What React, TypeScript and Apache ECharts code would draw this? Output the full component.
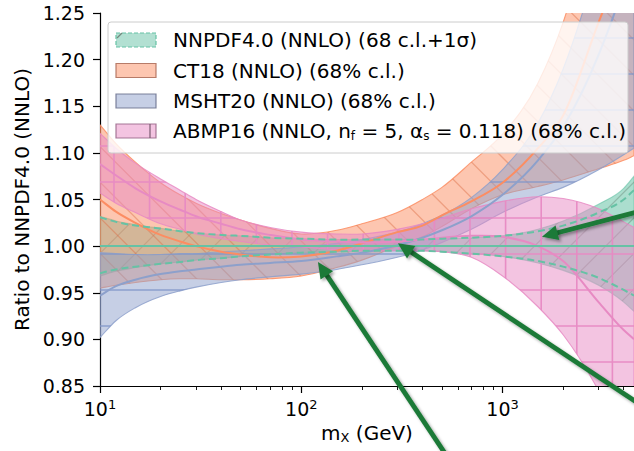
import React, { useEffect, useRef } from "react";
import * as echarts from "echarts";

// ---------------- data ----------------
const mX = [10, 12, 15, 20, 25, 30, 40, 50, 70, 100, 150, 200, 300, 400, 500, 700, 1000, 1500, 2000, 3000, 4000, 4500];

// NNPDF4.0: 68% c.l. band (filled) and 1-sigma (dashed)
const nnClLo = [0.968, 0.973, 0.977, 0.981, 0.983, 0.985, 0.987, 0.989, 0.991, 0.993, 0.994, 0.995, 0.995, 0.995, 0.994, 0.992, 0.989, 0.982, 0.974, 0.958, 0.940, 0.930];
const nnClHi = [1.032, 1.027, 1.023, 1.019, 1.016, 1.014, 1.012, 1.011, 1.009, 1.008, 1.007, 1.007, 1.007, 1.007, 1.008, 1.009, 1.011, 1.018, 1.027, 1.045, 1.062, 1.075];
const nnSdLo = [0.971, 0.975, 0.978, 0.981, 0.983, 0.985, 0.987, 0.989, 0.991, 0.993, 0.994, 0.995, 0.995, 0.995, 0.994, 0.992, 0.989, 0.984, 0.978, 0.966, 0.953, 0.947];
const nnSdHi = [1.031, 1.026, 1.022, 1.019, 1.016, 1.014, 1.012, 1.011, 1.009, 1.008, 1.007, 1.007, 1.007, 1.007, 1.008, 1.009, 1.011, 1.016, 1.022, 1.036, 1.050, 1.060];
const nnMid = [1, 1, 1, 1, 1, 1, 1, 1, 1, 1, 1, 1, 1, 1, 1, 1, 1, 1, 1, 1, 1, 1];

// CT18
const ctLo = [0.955, 0.958, 0.961, 0.964, 0.965, 0.965, 0.964, 0.964, 0.965, 0.968, 0.977, 0.985, 1.000, 1.010, 1.021, 1.040, 1.055, 1.064, 1.071, 1.083, 1.092, 1.097];
const ctMid = [1.050, 1.037, 1.025, 1.012, 1.005, 1.000, 0.994, 0.991, 0.988, 0.989, 0.995, 1.003, 1.015, 1.022, 1.033, 1.048, 1.068, 1.105, 1.140, 1.240, 1.310, 1.350];
const ctHi = [1.130, 1.110, 1.090, 1.068, 1.055, 1.046, 1.035, 1.028, 1.019, 1.013, 1.017, 1.024, 1.036, 1.050, 1.063, 1.090, 1.120, 1.175, 1.240, 1.380, 1.510, 1.580];

// MSHT20
const msLo = [0.902, 0.920, 0.934, 0.946, 0.952, 0.956, 0.961, 0.964, 0.967, 0.970, 0.975, 0.980, 0.988, 0.996, 1.004, 1.018, 1.036, 1.053, 1.063, 1.082, 1.098, 1.105];
const msMid = [0.947, 0.957, 0.964, 0.970, 0.973, 0.975, 0.978, 0.980, 0.982, 0.984, 0.989, 0.993, 1.001, 1.009, 1.017, 1.032, 1.055, 1.092, 1.128, 1.205, 1.280, 1.320];
const msHi = [0.993, 0.992, 0.991, 0.991, 0.992, 0.992, 0.994, 0.995, 0.997, 0.999, 1.003, 1.007, 1.015, 1.024, 1.033, 1.052, 1.082, 1.132, 1.190, 1.310, 1.420, 1.480];

// ABMP16
const abLo = [1.057, 1.046, 1.036, 1.024, 1.018, 1.013, 1.008, 1.005, 1.001, 0.999, 0.996, 0.995, 0.995, 0.995, 0.994, 0.988, 0.968, 0.935, 0.905, 0.845, 0.790, 0.760];
const abMid = [1.088, 1.076, 1.062, 1.048, 1.039, 1.032, 1.024, 1.018, 1.012, 1.007, 1.005, 1.004, 1.005, 1.007, 1.009, 1.011, 1.010, 1.000, 0.984, 0.940, 0.910, 0.900];
const abHi = [1.121, 1.105, 1.089, 1.072, 1.060, 1.050, 1.037, 1.028, 1.020, 1.015, 1.013, 1.013, 1.018, 1.024, 1.030, 1.040, 1.048, 1.053, 1.051, 1.040, 1.026, 1.020];

// axes
const xMajorTicks = [10, 100, 1000];
const xMinorTicks = [20, 30, 40, 50, 60, 70, 80, 90, 200, 300, 400, 500, 600, 700, 800, 900, 2000, 3000, 4000];

// annotation arrows (data coordinates: tail -> tip)
const arrowTailM = [587, 6050, 6050];
const arrowTailR = [0.760, 0.816, 1.043];
const arrowTipM = [121, 302, 1570];
const arrowTipR = [0.983, 1.003, 1.010];

// legend labels (rich text)
const legendLabels = [
  "{t|NNPDF4.0 (NNLO) (68 c.l.+1σ)}",
  "{t|CT18 (NNLO) (68% c.l.)}",
  "{t|MSHT20 (NNLO) (68% c.l.)}",
  "{t|ABMP16 (NNLO, n}{s|f}{t| = 5, α}{s|s}{t| = 0.118) (68% c.l.)}",
];

// ---------------- styles ----------------
const FONT = "DejaVu Sans";
const GREEN = "#66c2a5";
const ORANGE = "#fc8d62";
const BLUE = "#8da0cb";
const PINK = "#e78ac3";
const ARROW = "#1b7a37";

const f = (v: number) => v.toFixed(2);

function hermitePath(pts: number[][], start: string): string {
  const n = pts.length;
  const sl: number[] = [];
  for (let i = 0; i < n; i++) {
    if (i === 0) sl.push((pts[1][1] - pts[0][1]) / (pts[1][0] - pts[0][0]));
    else if (i === n - 1) sl.push((pts[n - 1][1] - pts[n - 2][1]) / (pts[n - 1][0] - pts[n - 2][0]));
    else {
      const h0 = pts[i][0] - pts[i - 1][0];
      const h1 = pts[i + 1][0] - pts[i][0];
      const s0 = (pts[i][1] - pts[i - 1][1]) / h0;
      const s1 = (pts[i + 1][1] - pts[i][1]) / h1;
      sl.push((s0 * h1 + s1 * h0) / (h0 + h1));
    }
  }
  let d = `${start}${f(pts[0][0])} ${f(pts[0][1])}`;
  for (let i = 0; i < n - 1; i++) {
    const [x0, y0] = pts[i];
    const [x1, y1] = pts[i + 1];
    const dx = (x1 - x0) / 3;
    d += ` C${f(x0 + dx)} ${f(y0 + sl[i] * dx)} ${f(x1 - dx)} ${f(y1 - sl[i + 1] * dx)} ${f(x1)} ${f(y1)}`;
  }
  return d;
}

function hatchPath(kind: string, rect: any): string {
  const SX = 35.6;
  const SY = 36;
  const x0 = rect.x - 40;
  const x1 = rect.x + rect.width + 40;
  const y0 = rect.y - 40;
  const y1 = rect.y + rect.height + 40;
  const segs: string[] = [];
  if (kind === "grid") {
    for (let x = 114 - SX * Math.ceil((114 - x0) / SX); x <= x1; x += SX) segs.push(`M${f(x)} ${f(y0)}L${f(x)} ${f(y1)}`);
  }
  if (kind === "grid" || kind === "horiz") {
    for (let y = 254 - SY * Math.ceil((254 - y0) / SY); y <= y1; y += SY) segs.push(`M${f(x0)} ${f(y)}L${f(x1)} ${f(y)}`);
  }
  if (kind === "back") {
    for (let c = y0 - x1; c <= y1 - x0; c += SX) segs.push(`M${f(x0)} ${f(x0 + c)}L${f(x1)} ${f(x1 + c)}`);
  }
  if (kind === "fwd") {
    for (let c = x0 + y0; c <= x1 + y1; c += SX) segs.push(`M${f(x0)} ${f(c - x0)}L${f(x1)} ${f(c - x1)}`);
  }
  return segs.join("");
}

function bandSeries(lo: number[], hi: number[], fill: string, edge: string, hatch: string, hatchColor: string, hatchWidth: number, z: number) {
  return {
    type: "custom",
    coordinateSystem: "cartesian2d",
    xAxisIndex: 0,
    yAxisIndex: 0,
    clip: true,
    silent: true,
    z,
    data: mX.map((m, i) => [m, lo[i], hi[i]]),
    encode: { x: 0, y: [1, 2] },
    renderItem: (params: any, api: any) => {
      if (params.dataIndex !== 0) return null;
      const up = mX.map((m, i) => api.coord([m, hi[i]]));
      const dn = mX.map((m, i) => api.coord([m, lo[i]])).reverse();
      const d = hermitePath(up, "M") + " " + hermitePath(dn, "L") + " Z";
      return {
        type: "group",
        children: [
          { type: "path", shape: { pathData: d }, style: { fill, stroke: edge, lineWidth: 1.1 } },
          {
            type: "path",
            shape: { pathData: hatchPath(hatch, params.coordSys) },
            style: { fill: "none", stroke: hatchColor, lineWidth: hatchWidth },
            clipPath: { type: "path", shape: { pathData: d } },
          },
        ],
      };
    },
  };
}

function curveSeries(vals: number[], stroke: string, width: number, dash: number[] | null, z: number) {
  return {
    type: "custom",
    coordinateSystem: "cartesian2d",
    xAxisIndex: 0,
    yAxisIndex: 0,
    clip: true,
    silent: true,
    z,
    data: mX.map((m, i) => [m, vals[i]]),
    encode: { x: 0, y: 1 },
    renderItem: (params: any, api: any) => {
      if (params.dataIndex !== 0) return null;
      const pts = mX.map((m, i) => api.coord([m, vals[i]]));
      return {
        type: "path",
        shape: { pathData: hermitePath(pts, "M") },
        style: { fill: "none", stroke, lineWidth: width, lineDash: dash || undefined },
      };
    },
  };
}

const arrowSeries = {
  type: "custom",
  coordinateSystem: "cartesian2d",
  xAxisIndex: 0,
  yAxisIndex: 0,
  clip: false,
  silent: true,
  z: 30,
  data: arrowTipM.map((m, i) => [m, arrowTipR[i], arrowTailM[i], arrowTailR[i]]),
  encode: { x: 0, y: 1 },
  renderItem: (params: any, api: any) => {
    const i = params.dataIndex;
    const tip = api.coord([arrowTipM[i], arrowTipR[i]]);
    const tail = api.coord([arrowTailM[i], arrowTailR[i]]);
    const dx = tip[0] - tail[0];
    const dy = tip[1] - tail[1];
    const len = Math.sqrt(dx * dx + dy * dy);
    const ux = dx / len;
    const uy = dy / len;
    const L = 16;
    const W = 7.5;
    const bx = tip[0] - ux * L;
    const by = tip[1] - uy * L;
    const shadow = { shadowColor: "rgba(0,0,0,0.35)", shadowBlur: 3, shadowOffsetX: 2, shadowOffsetY: 2 };
    return {
      type: "group",
      children: [
        {
          type: "line",
          shape: { x1: tail[0], y1: tail[1], x2: bx + ux * 2, y2: by + uy * 2 },
          style: { stroke: ARROW, lineWidth: 4.8, ...shadow },
        },
        {
          type: "polygon",
          shape: { points: [[tip[0], tip[1]], [bx - uy * W, by + ux * W], [bx + uy * W, by - ux * W]] },
          style: { fill: ARROW, ...shadow },
        },
      ],
    };
  },
};

function buildLegend() {
  const cys = [40, 70.5, 101, 131];
  const patchFill = ["rgba(102,194,165,0.5)", "rgba(252,141,98,0.5)", "rgba(141,160,203,0.5)", "rgba(231,138,195,0.5)"];
  const patchStroke = [GREEN, "rgba(170,105,85,0.85)", "rgba(105,110,140,0.85)", "rgba(150,100,135,0.85)"];
  const els: any[] = [
    {
      type: "rect",
      z: 100,
      shape: { x: 108, y: 22, width: 520, height: 131, r: 3 },
      style: { fill: "rgba(255,255,255,0.8)", stroke: "#cccccc", lineWidth: 1 },
    },
  ];
  cys.forEach((cy, i) => {
    els.push({
      type: "rect",
      z: 101,
      shape: { x: 116, y: cy - 7, width: 40, height: 14 },
      style: { fill: patchFill[i], stroke: patchStroke[i], lineWidth: 1.2, lineDash: i === 0 ? [4, 2] : undefined },
    });
    els.push({
      type: "text",
      z: 102,
      x: 173,
      y: cy,
      style: {
        text: legendLabels[i],
        verticalAlign: "middle",
        align: "left",
        rich: {
          t: { fontSize: 20, fontFamily: FONT, fill: "#000", color: "#000", lineHeight: 22 },
          s: { fontSize: 12, fontFamily: FONT, fill: "#000", color: "#000", verticalAlign: "bottom", lineHeight: 11 },
        },
      },
    });
  });
  // small hatch marks visible in the legend patches
  els.push({ type: "line", z: 102, shape: { x1: 117, y1: 38, x2: 122, y2: 33 }, style: { stroke: "rgba(90,100,90,0.7)", lineWidth: 1.2 } });
  els.push({ type: "line", z: 102, shape: { x1: 150, y1: 124, x2: 150, y2: 138 }, style: { stroke: "rgba(120,90,110,0.85)", lineWidth: 1.4 } });
  return els;
}

export default function App() {
  const ref = useRef<HTMLDivElement>(null);
  useEffect(() => {
    if (!ref.current) return;
    const chart = echarts.init(ref.current, null, { renderer: "svg" });
    const axisText = { color: "#000", fontFamily: FONT, fontSize: 19 };
    const option: any = {
      animation: false,
      backgroundColor: "#ffffff",
      grid: { left: 100, right: 0, top: 13, bottom: 65, containLabel: false },
      xAxis: [
        {
          type: "log",
          logBase: 10,
          min: 10,
          max: 4500,
          name: "{a|m}{b|X}{a| (GeV)}",
          nameLocation: "middle",
          nameGap: 36,
          nameTextStyle: {
            rich: {
              a: { fontSize: 20, fontFamily: FONT, color: "#000", lineHeight: 22 },
              b: { fontSize: 13, fontFamily: FONT, color: "#000", verticalAlign: "bottom", lineHeight: 12 },
            },
          },
          axisLine: { show: true, lineStyle: { color: "#000", width: 1.2 } },
          axisTick: { show: true, customValues: xMajorTicks, length: 7, inside: false, lineStyle: { color: "#000", width: 1.2 } },
          axisLabel: {
            show: true,
            customValues: xMajorTicks,
            margin: 12,
            formatter: (v: number) => `{b|10}{s|${Math.round(Math.log10(v))}}`,
            rich: {
              b: { ...axisText, lineHeight: 22 },
              s: { color: "#000", fontFamily: FONT, fontSize: 13, verticalAlign: "top", lineHeight: 12 },
            },
          },
          splitLine: { show: false },
          minorTick: { show: false },
        },
        {
          type: "log",
          logBase: 10,
          min: 10,
          max: 4500,
          position: "bottom",
          offset: 0,
          axisLine: { show: false },
          axisTick: { show: true, customValues: xMinorTicks, length: 4, inside: false, lineStyle: { color: "#000", width: 0.9 } },
          axisLabel: { show: false },
          splitLine: { show: false },
        },
      ],
      yAxis: {
        type: "value",
        min: 0.85,
        max: 1.25,
        interval: 0.05,
        name: "Ratio to NNPDF4.0 (NNLO)",
        nameLocation: "middle",
        nameGap: 62,
        nameRotate: 90,
        nameTextStyle: { color: "#000", fontFamily: FONT, fontSize: 20 },
        axisLine: { show: true, onZero: false, lineStyle: { color: "#000", width: 1.2 } },
        axisTick: { show: true, length: 7, inside: false, lineStyle: { color: "#000", width: 1.2 } },
        axisLabel: { ...axisText, margin: 15, formatter: (v: number) => v.toFixed(2) },
        splitLine: { show: false },
      },
      series: [
        bandSeries(nnClLo, nnClHi, "rgba(102,194,165,0.55)", "rgba(102,194,165,0.6)", "fwd", "rgba(90,115,100,0.35)", 1.2, 2),
        bandSeries(ctLo, ctHi, "rgba(252,141,98,0.5)", "rgba(252,141,98,0.85)", "back", "rgba(220,110,70,0.45)", 1.3, 3),
        bandSeries(msLo, msHi, "rgba(141,160,203,0.5)", "rgba(141,160,203,0.85)", "horiz", "rgba(130,150,200,0.85)", 1.5, 4),
        bandSeries(abLo, abHi, "rgba(231,138,195,0.5)", "rgba(231,138,195,0.85)", "grid", "rgba(231,138,195,0.95)", 1.6, 5),
        curveSeries(ctMid, ORANGE, 2, null, 10),
        curveSeries(msMid, BLUE, 2, null, 10),
        curveSeries(abMid, PINK, 2, null, 10),
        curveSeries(nnMid, GREEN, 2, null, 11),
        curveSeries(nnSdLo, GREEN, 2, [7, 4], 11),
        curveSeries(nnSdHi, GREEN, 2, [7, 4], 11),
        arrowSeries,
      ],
      graphic: buildLegend(),
    };
    chart.setOption(option);
    return () => chart.dispose();
  }, []);
  return <div ref={ref} style={{ position: "fixed", left: 0, top: 0, width: 634, height: 451, background: "#fff" }} />;
}
